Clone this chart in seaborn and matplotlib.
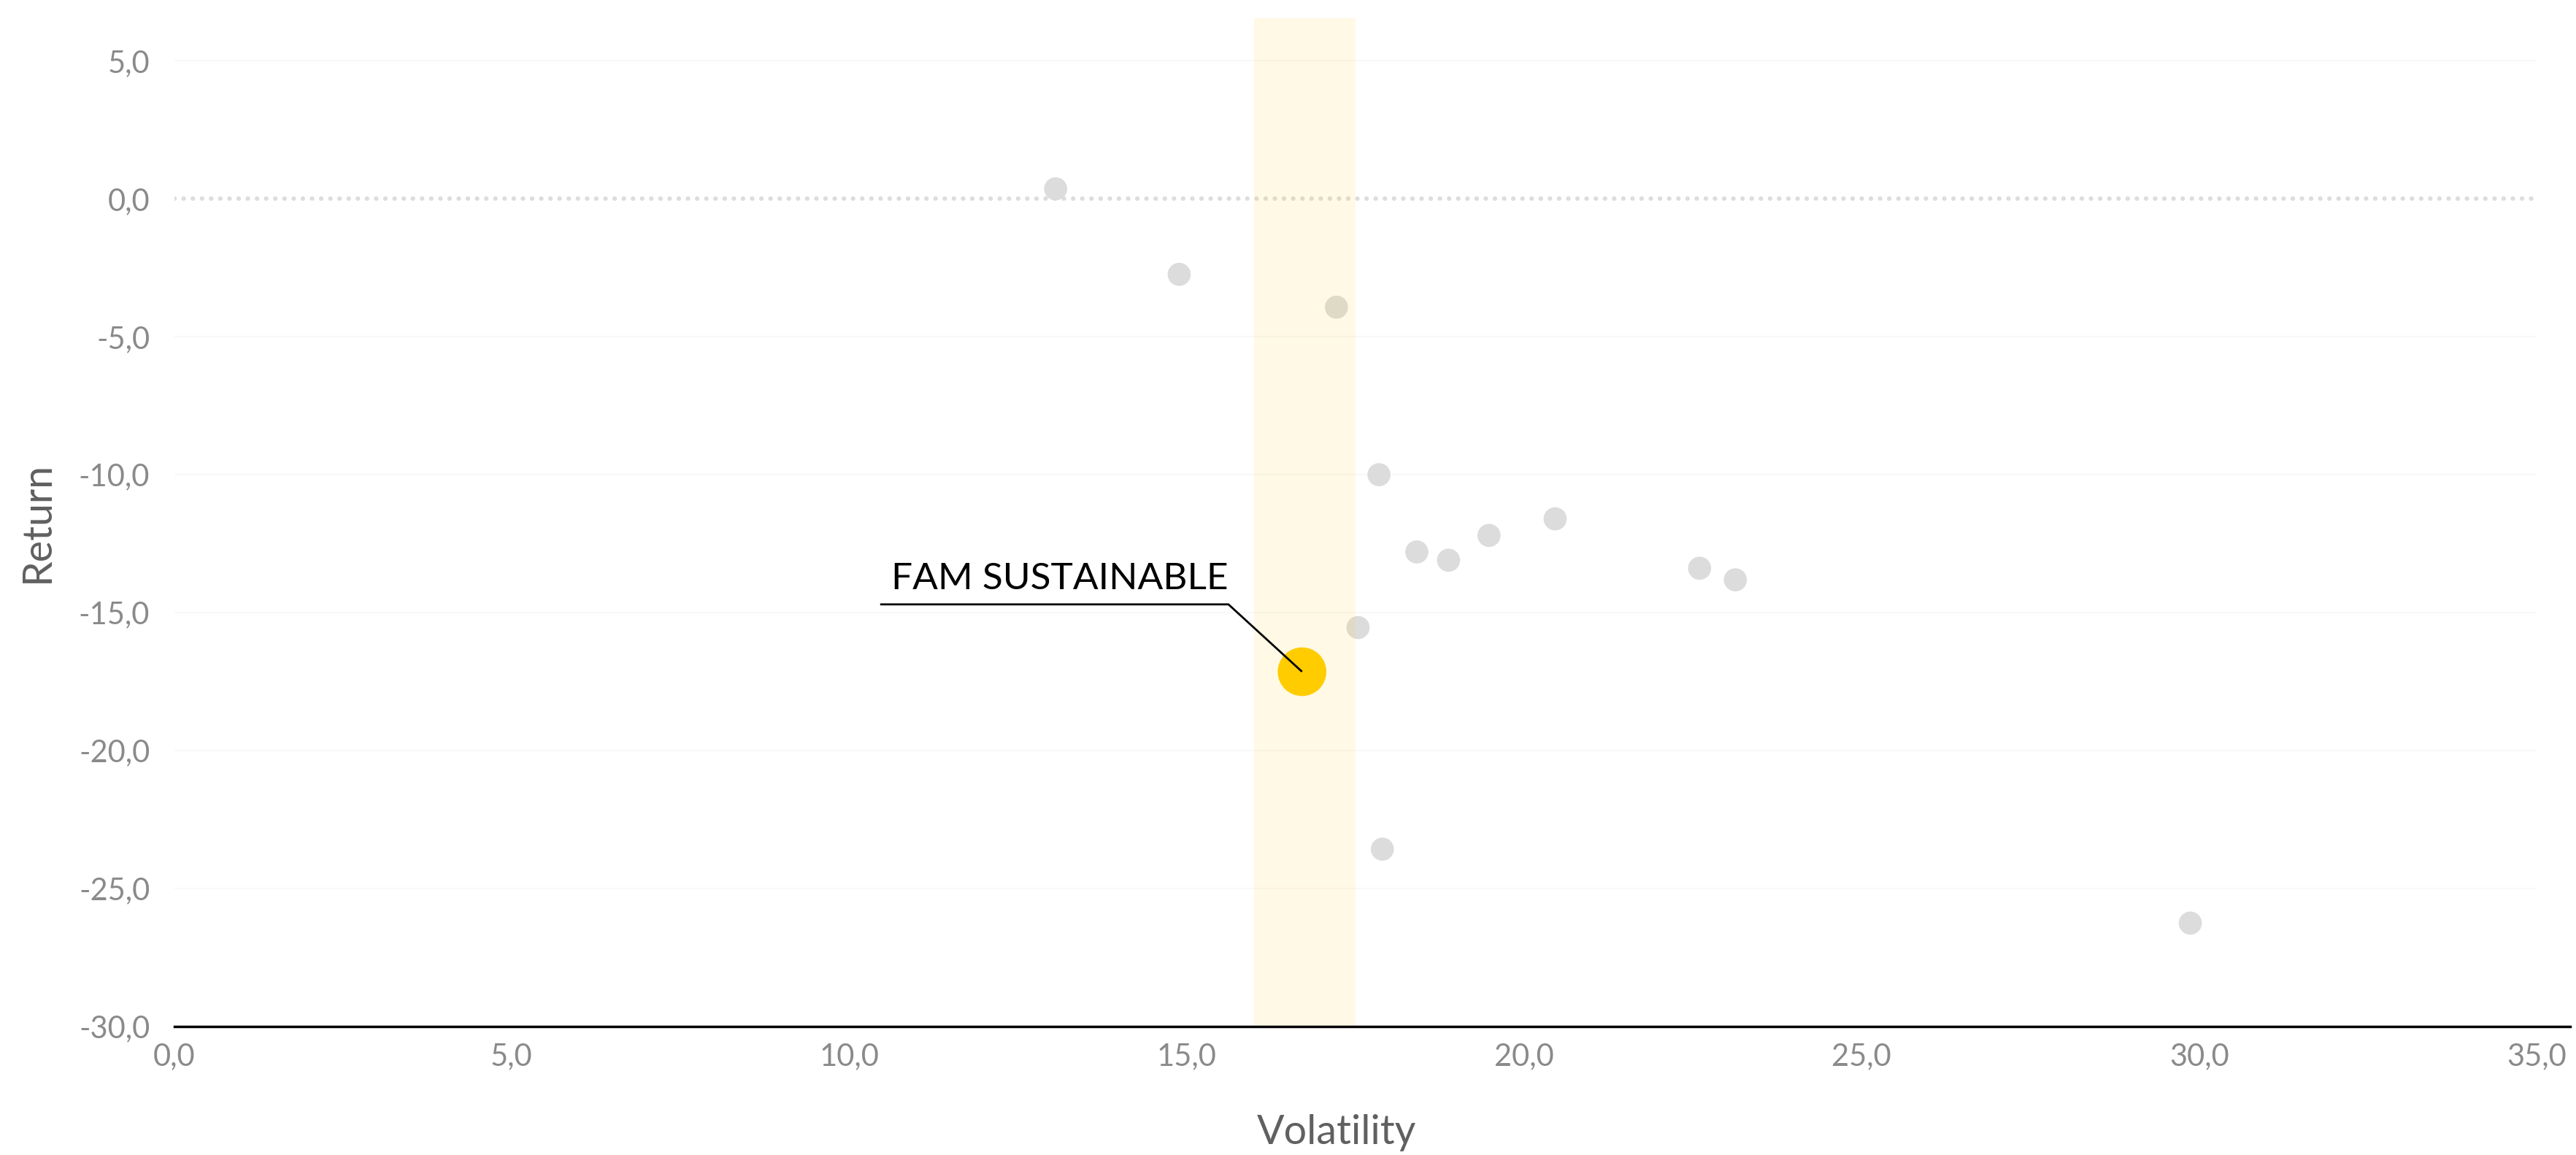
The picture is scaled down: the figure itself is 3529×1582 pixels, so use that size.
import numpy as np
import pandas as pd
import seaborn as sns
import matplotlib.pyplot as plt

# ------------------- DATA -------------------

peer_volatility = [13.06, 14.89, 17.22, 17.85, 18.41, 18.88, 19.48, 20.46, 22.60, 23.13, 17.54, 17.90, 29.87]
peer_return = [0.36, -2.74, -3.93, -10.0, -12.8, -13.1, -12.2, -11.6, -13.39, -13.81, -15.54, -23.57, -26.25]

fund_name = "FAM SUSTAINABLE"
fund_volatility = [16.71]
fund_return = [-17.14]

band_range = [16.0, 17.5]
x_ticks = [0, 5, 10, 15, 20, 25, 30, 35]
y_ticks = [5, 0, -5, -10, -15, -20, -25, -30]

peers = pd.DataFrame({"Volatility": peer_volatility, "Return": peer_return})
fund = pd.DataFrame({"Volatility": fund_volatility, "Return": fund_return})

# ------------------- PLOT -------------------

sns.set_theme(style="white")
plt.rcParams['font.family'] = ['Lato', 'DejaVu Sans']

fig = plt.figure(figsize=(35.29, 15.82), dpi=100)
ax = fig.add_axes([0.0676, 0.1112, 0.9302, 0.8732])

# faint gridlines + dotted zero line
for t in y_ticks:
    if t in (0, -30):
        continue
    ax.hlines(t, x_ticks[0], x_ticks[-1], color="#f8f8f8", lw=1.5, zorder=0)
ax.hlines(0, x_ticks[0], x_ticks[-1], color="#dddddd", lw=4.5,
          linestyles=(0, (0.01, 2.0)), capstyle="round", zorder=1)

sns.scatterplot(data=peers, x="Volatility", y="Return", ax=ax, s=520,
                color="#dcdcdc", edgecolor="none", linewidth=0, zorder=2)

ax.axvspan(band_range[0], band_range[1], color="#FFCC00", alpha=0.1, lw=0, zorder=3)

sns.scatterplot(data=fund, x="Volatility", y="Return", ax=ax, s=2300,
                color="#FFCC00", edgecolor="none", linewidth=0, zorder=4)

# label with leader line
fx, fy = fund_volatility[0], fund_return[0]
elbow_x, elbow_y = fx - 1.09, fy + 2.44
line_start = elbow_x - 5.16
ax.plot([line_start, elbow_x, fx], [elbow_y, elbow_y, fy], color="black", lw=2, zorder=5,
        solid_capstyle="butt")
ax.text(elbow_x, elbow_y + 0.3, fund_name, ha="right", va="bottom", fontsize=37,
        color="black", zorder=5)

ax.set_xlim(0, 35.5)
ax.set_ylim(-30, 6.55)
ax.set_xticks(x_ticks)
ax.set_yticks(y_ticks)
ax.set_xticklabels([f"{v:.1f}".replace(".", ",") for v in x_ticks])
ax.set_yticklabels([f"{v:.1f}".replace(".", ",") for v in y_ticks])
ax.tick_params(axis="both", length=0, labelsize=30, labelcolor="#8a8a8a")
ax.tick_params(axis="y", pad=24)
ax.tick_params(axis="x", pad=16)

for s in ["top", "right", "left"]:
    ax.spines[s].set_visible(False)
ax.spines["bottom"].set_color("black")
ax.spines["bottom"].set_linewidth(2.5)
ax.spines["bottom"].set_zorder(6)

ax.set_xlabel("Volatility", fontsize=40, color="#606060")
ax.set_ylabel("Return", fontsize=40, color="#606060", labelpad=22)
ax.xaxis.set_label_coords(0.485, -0.087)

fig.savefig("out.png", dpi=100, facecolor="white")
